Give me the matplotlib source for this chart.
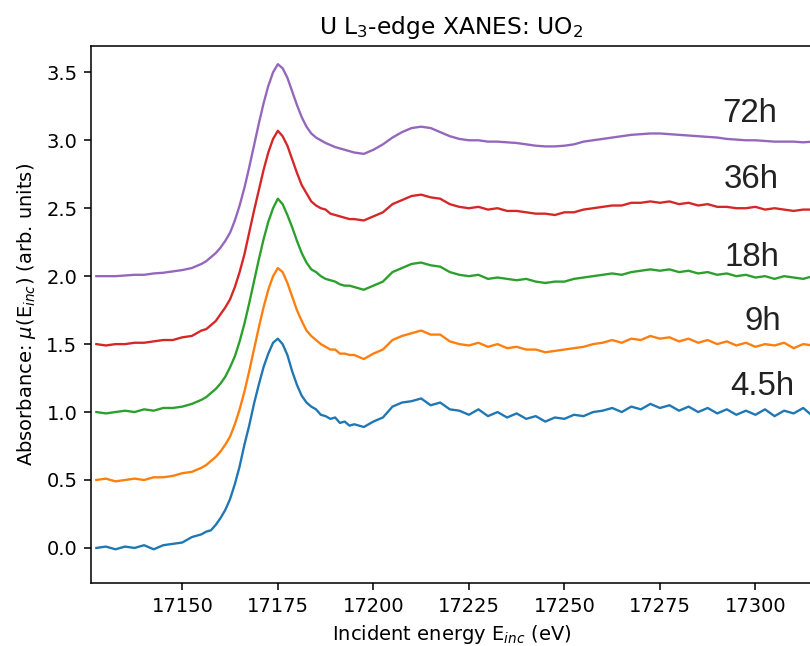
import numpy as np
import matplotlib
matplotlib.use("Agg")
import matplotlib.pyplot as plt

# energy grid (eV) the curves were read on; finer across the white line
energy = np.concatenate([
    np.arange(17127.5, 17153, 2.5),
    np.arange(17155.0, 17195.1, 1.25),
    np.arange(17197.5, 17331, 2.5),
])

labels = ["4.5h", "9h", "18h", "36h", "72h"]
colors = ["C0", "C1", "C2", "C3", "C4"]

mu_4p5h = [0.00, 0.01, -0.01, 0.01, 0.00, 0.02, -0.01, 0.02, 0.03, 0.04, 0.08,
           # edge region
           0.10, 0.12, 0.13, 0.17, 0.22, 0.28, 0.36, 0.47, 0.60, 0.76, 0.90,
           1.06, 1.20, 1.33, 1.43, 1.51, 1.54, 1.50, 1.42, 1.30, 1.20, 1.12,
           1.07, 1.04, 1.02, 0.98, 0.97, 0.95, 0.96, 0.92, 0.93, 0.90, 0.91,
           # EXAFS side
           0.89, 0.93, 0.96, 1.04, 1.07, 1.08, 1.10, 1.05, 1.07, 1.02,
           1.01, 0.98, 1.02, 0.97, 1.00, 0.96, 0.99, 0.95, 0.97, 0.93,
           0.96, 0.95, 0.98, 0.97, 1.00, 1.01, 1.03, 1.00, 1.04, 1.02,
           1.06, 1.03, 1.05, 1.01, 1.04, 1.00, 1.03, 0.99, 1.02, 0.98,
           1.01, 0.98, 1.02, 0.97, 1.01, 0.99, 1.03, 0.97, 1.00, 1.02,
           0.97, 1.01, 0.99, 0.98]

mu_9h = [0.50, 0.51, 0.49, 0.50, 0.51, 0.50, 0.52, 0.52, 0.53, 0.55, 0.56,
         0.59, 0.61, 0.64, 0.67, 0.71, 0.76, 0.82, 0.91, 1.02, 1.15, 1.30,
         1.46, 1.62, 1.77, 1.90, 2.00, 2.06, 2.03, 1.95, 1.85, 1.75, 1.67,
         1.60, 1.56, 1.53, 1.50, 1.48, 1.46, 1.46, 1.43, 1.43, 1.42, 1.42,
         1.39, 1.43, 1.46, 1.53, 1.56, 1.58, 1.60, 1.57, 1.57, 1.52,
         1.50, 1.49, 1.51, 1.48, 1.50, 1.47, 1.48, 1.46, 1.46, 1.44,
         1.45, 1.46, 1.47, 1.48, 1.50, 1.51, 1.53, 1.51, 1.54, 1.53,
         1.56, 1.54, 1.55, 1.52, 1.54, 1.51, 1.53, 1.50, 1.52, 1.49,
         1.51, 1.48, 1.50, 1.49, 1.51, 1.47, 1.50, 1.49, 1.48, 1.51,
         1.48, 1.50, 1.49, 1.48]

mu_18h = [1.00, 0.99, 1.00, 1.01, 1.00, 1.02, 1.01, 1.03, 1.03, 1.04, 1.06,
          1.09, 1.11, 1.14, 1.17, 1.21, 1.26, 1.33, 1.41, 1.52, 1.65, 1.80,
          1.96, 2.12, 2.27, 2.40, 2.50, 2.57, 2.53, 2.45, 2.36, 2.26, 2.17,
          2.10, 2.05, 2.03, 2.00, 1.98, 1.97, 1.96, 1.94, 1.93, 1.93, 1.92,
          1.90, 1.93, 1.96, 2.03, 2.06, 2.09, 2.10, 2.08, 2.07, 2.03,
          2.01, 2.00, 2.01, 1.98, 1.99, 1.98, 1.97, 1.98, 1.96, 1.95,
          1.96, 1.96, 1.98, 1.99, 2.00, 2.01, 2.02, 2.01, 2.03, 2.04,
          2.05, 2.04, 2.05, 2.03, 2.04, 2.02, 2.03, 2.01, 2.02, 2.00,
          2.01, 1.99, 2.00, 1.98, 2.00, 1.99, 1.98, 2.00, 1.98, 1.99,
          2.00, 1.98, 1.99, 1.98]

mu_36h = [1.50, 1.49, 1.50, 1.50, 1.51, 1.51, 1.52, 1.53, 1.53, 1.55, 1.56,
          1.60, 1.61, 1.64, 1.67, 1.72, 1.77, 1.83, 1.92, 2.03, 2.16, 2.32,
          2.48, 2.63, 2.78, 2.91, 3.01, 3.07, 3.03, 2.96, 2.86, 2.76, 2.67,
          2.61, 2.55, 2.52, 2.50, 2.49, 2.46, 2.45, 2.44, 2.43, 2.42, 2.42,
          2.41, 2.44, 2.47, 2.53, 2.56, 2.59, 2.60, 2.58, 2.57, 2.53,
          2.51, 2.50, 2.51, 2.49, 2.50, 2.48, 2.48, 2.47, 2.46, 2.46,
          2.45, 2.47, 2.47, 2.49, 2.50, 2.51, 2.52, 2.52, 2.54, 2.54,
          2.55, 2.54, 2.55, 2.53, 2.54, 2.52, 2.53, 2.51, 2.51, 2.50,
          2.50, 2.51, 2.49, 2.50, 2.49, 2.48, 2.49, 2.49, 2.48, 2.49,
          2.50, 2.48, 2.49, 2.49]

mu_72h = [2.00, 2.00, 2.00, 2.005, 2.01, 2.01, 2.02, 2.025, 2.035, 2.045, 2.06,
          2.09, 2.11, 2.14, 2.17, 2.21, 2.26, 2.32, 2.41, 2.52, 2.65, 2.80,
          2.96, 3.12, 3.27, 3.40, 3.50, 3.56, 3.53, 3.46, 3.36, 3.26, 3.17,
          3.10, 3.05, 3.02, 3.00, 2.98, 2.965, 2.95, 2.94, 2.93, 2.92, 2.91,
          2.90, 2.93, 2.97, 3.02, 3.06, 3.09, 3.10, 3.09, 3.06, 3.03,
          3.01, 3.00, 3.00, 2.99, 2.99, 2.985, 2.98, 2.97, 2.96, 2.955,
          2.955, 2.96, 2.97, 2.99, 3.00, 3.01, 3.02, 3.03, 3.04, 3.045,
          3.05, 3.05, 3.045, 3.04, 3.035, 3.03, 3.025, 3.02, 3.01, 3.005,
          3.00, 3.00, 2.995, 2.99, 2.99, 2.99, 2.985, 2.99, 2.99, 2.985,
          2.99, 2.99, 2.985, 2.99]

series = [mu_4p5h, mu_9h, mu_18h, mu_36h, mu_72h]
for s in series:
    assert len(s) == len(energy), (len(s), len(energy))

# where the time labels sit (data coords)
label_x = [17301.8, 17301.8, 17299.0, 17299.0, 17298.6]
label_y = [1.187, 1.665, 2.134, 2.708, 3.20]

dpi = 140
fig = plt.figure(figsize=(810 / dpi, 646 / dpi), dpi=dpi)
# axes runs just past the right edge of the picture, as in the reference crop
ax = fig.add_axes([91 / 810, 63 / 646, 721 / 810, 537.3 / 646])

for mu, c in zip(series, colors):
    ax.plot(energy, mu, color=c, lw=1.2)

for lab, lx, ly in zip(labels, label_x, label_y):
    ax.text(lx, ly, lab, fontsize=17, family="Liberation Sans",
            ha="center", va="center", color="#222222")

ax.set_xlim(17126.1, 17314.8)
ax.set_ylim(-0.258, 3.696)
ax.set_xticks([17150, 17175, 17200, 17225, 17250, 17275, 17300])
ax.set_yticks([0.0, 0.5, 1.0, 1.5, 2.0, 2.5, 3.0, 3.5])
ax.set_title(r"U L$_3$-edge XANES: UO$_2$")
ax.set_xlabel(r"Incident energy E$_{inc}$ (eV)")
ax.set_ylabel(r"Absorbance: $\mu$(E$_{inc}$) (arb. units)")

fig.savefig("out.png", dpi=dpi)
